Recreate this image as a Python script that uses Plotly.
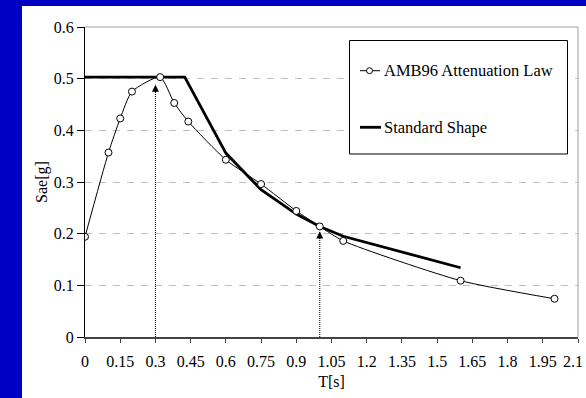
import plotly.graph_objects as go

# ---- data ----
amb_T = [0.0, 0.1, 0.15, 0.2, 0.32, 0.38, 0.44, 0.6, 0.75, 0.9, 1.0, 1.1, 1.6, 2.0]
amb_Sa = [0.194, 0.357, 0.423, 0.475, 0.503, 0.453, 0.417, 0.343, 0.296, 0.244, 0.214, 0.186, 0.109, 0.074]

std_T = [0.0, 0.425, 0.6, 0.75, 0.9, 1.0, 1.1, 1.6]
std_Sa = [0.503, 0.503, 0.356, 0.285, 0.238, 0.214, 0.195, 0.134]

arrow_T = [0.3, 1.0]
arrow_top = [0.488, 0.204]

x_ticks = [round(0.15 * i, 2) for i in range(15)]
x_tick_labels = ["0", "0.15", "0.3", "0.45", "0.6", "0.75", "0.9", "1.05", "1.2",
                 "1.35", "1.5", "1.65", "1.8", "1.95", "2.1"]
y_ticks = [0, 0.1, 0.2, 0.3, 0.4, 0.5, 0.6]
y_tick_labels = ["0", "0.1", "0.2", "0.3", "0.4", "0.5", "0.6"]

legend_names = ["AMB96 Attenuation Law", "Standard Shape"]

FONT = "Liberation Serif"
FS = 16
W, H = 586, 398
L, R, T, B = 85, 8, 27, 61
PW, PH = W - L - R, H - T - B

def px(xp):
    return (xp - L) / PW

def py(yp):
    return (H - B - yp) / PH

fig = go.Figure()

fig.add_trace(go.Scatter(
    x=std_T, y=std_Sa, mode="lines", name=legend_names[1],
    line=dict(color="black", width=2.8), showlegend=False))

fig.add_trace(go.Scatter(
    x=amb_T, y=amb_Sa, mode="lines+markers", name=legend_names[0],
    line=dict(color="black", width=1, shape="spline", smoothing=0.6),
    marker=dict(symbol="circle", size=7, color="white",
                line=dict(color="black", width=1)),
    showlegend=False))

shapes = []
# white panel on blue background
shapes.append(dict(type="rect", xref="paper", yref="paper",
                   x0=px(22), x1=px(W + 5), y0=py(H + 5), y1=py(6),
                   fillcolor="white", line=dict(width=0), layer="below"))
# frame (top & right) in gray
shapes.append(dict(type="line", xref="paper", yref="paper", x0=0, x1=1, y0=1, y1=1,
                   line=dict(color="#a0a0a0", width=1)))
shapes.append(dict(type="line", xref="paper", yref="paper", x0=1, x1=1, y0=0, y1=1,
                   line=dict(color="#a0a0a0", width=1)))
# dotted arrow shafts
for t, top in zip(arrow_T, arrow_top):
    shapes.append(dict(type="line", xref="x", yref="y", x0=t, x1=t, y0=0, y1=top,
                       line=dict(color="black", width=1, dash="1px,1px")))
# legend box
shapes.append(dict(type="rect", xref="paper", yref="paper",
                   x0=px(349.5), x1=px(567.5), y0=py(154), y1=py(40.5),
                   fillcolor="white", line=dict(color="black", width=1)))
# legend symbols
shapes.append(dict(type="line", xref="paper", yref="paper",
                   x0=px(360), x1=px(380), y0=py(70.7), y1=py(70.7),
                   line=dict(color="black", width=1)))
shapes.append(dict(type="circle", xref="paper", yref="paper",
                   xsizemode="pixel", ysizemode="pixel",
                   xanchor=px(369.5), yanchor=py(70.7),
                   x0=-3, x1=3, y0=-3, y1=3,
                   fillcolor="white", line=dict(color="black", width=1)))
shapes.append(dict(type="line", xref="paper", yref="paper",
                   x0=px(360), x1=px(381), y0=py(127.3), y1=py(127.3),
                   line=dict(color="black", width=2.8)))

annotations = []
for t, top in zip(arrow_T, arrow_top):
    annotations.append(dict(x=t, y=top, xref="x", yref="y", ax=0, ay=9,
                            showarrow=True, arrowhead=2, arrowsize=1.4,
                            arrowwidth=1, arrowcolor="black", text=""))
annotations.append(dict(x=px(382), y=py(70.7), xref="paper", yref="paper",
                        xanchor="left", yanchor="middle", showarrow=False,
                        text=legend_names[0], font=dict(family=FONT, size=16.5, color="black")))
annotations.append(dict(x=px(382), y=py(127.3), xref="paper", yref="paper",
                        xanchor="left", yanchor="middle", showarrow=False,
                        text=legend_names[1], font=dict(family=FONT, size=16.5, color="black")))
# last x tick label, kept inside the page edge
annotations.append(dict(x=px(585), y=py(361), xref="paper", yref="paper",
                        xanchor="right", yanchor="middle", showarrow=False,
                        text=x_tick_labels[-1], font=dict(family=FONT, size=FS, color="black")))

axis_tick_text = x_tick_labels[:-1] + [""]

fig.update_layout(
    width=W, height=H,
    margin=dict(l=L, r=R, t=T, b=B, pad=0, autoexpand=False),
    paper_bgcolor="#0000c4",
    plot_bgcolor="white",
    font=dict(family=FONT, size=FS, color="black"),
    shapes=shapes,
    annotations=annotations,
    showlegend=False,
)

fig.update_xaxes(
    range=[0, 2.1], tickmode="array", tickvals=x_ticks, ticktext=axis_tick_text,
    ticks="outside", ticklen=4, tickwidth=1, tickcolor="#444",
    showline=True, linecolor="#444", linewidth=1.5,
    showgrid=False, zeroline=False, automargin=False,
    tickfont=dict(family=FONT, size=FS, color="black"),
    title=dict(text="T[s]", font=dict(family=FONT, size=FS), standoff=7),
    ticklabelstandoff=5,
)
fig.update_yaxes(
    range=[0, 0.6], tickmode="array", tickvals=y_ticks, ticktext=y_tick_labels,
    ticks="outside", ticklen=7, tickwidth=1, tickcolor="black",
    showline=True, linecolor="black", linewidth=1,
    showgrid=True, gridcolor="#c0c0c0", griddash="7px,7px", gridwidth=1,
    zeroline=False, automargin=False,
    tickfont=dict(family=FONT, size=FS, color="black"),
    title=dict(text="Sae[g]", font=dict(family=FONT, size=FS), standoff=2),
)

fig.write_html("out.html")
